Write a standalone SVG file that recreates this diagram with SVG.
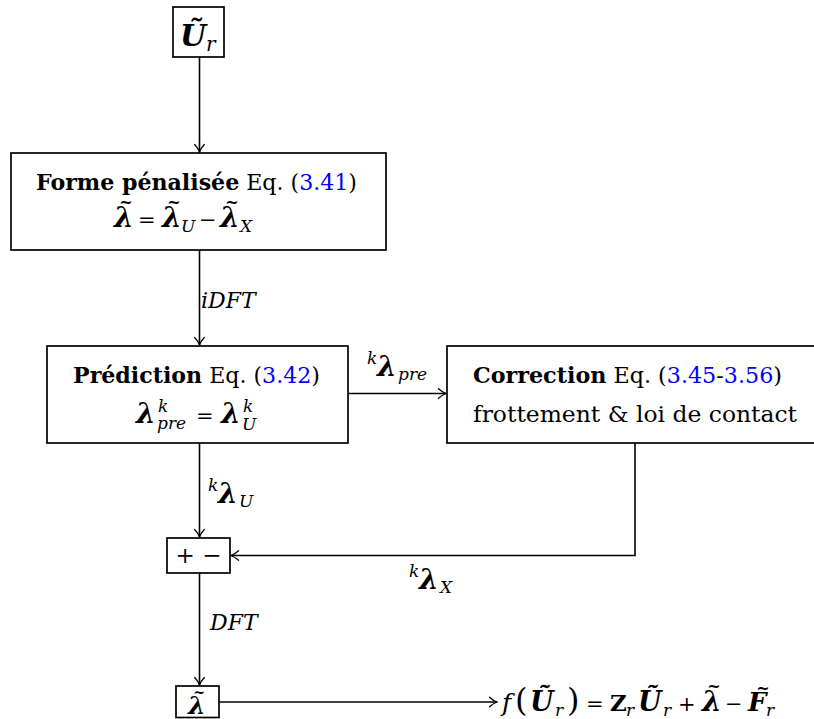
<svg xmlns="http://www.w3.org/2000/svg" width="814" height="719" viewBox="0 0 814 719">
<defs>
<marker id="arr" markerUnits="userSpaceOnUse" markerWidth="14" markerHeight="14" viewBox="-10 -7 12 14" refX="0" refY="0" orient="auto" overflow="visible">
<path d="M-7.5,-4.8 C-4.8,-2.3 -2,-0.7 0,0 C-2,0.7 -4.8,2.3 -7.5,4.8" fill="none" stroke="#000" stroke-width="1.3" stroke-linecap="round"/>
</marker>
<style>
.box{fill:#fff;stroke:#000;stroke-width:1.7}
.t{font-family:"DejaVu Serif",serif;font-size:23px;fill:#000}
.b{font-weight:bold}
.ref{fill:#0000ff}
.m{font-family:"DejaVu Serif",serif;fill:#000;font-size:22px}
.lam{font-weight:bold;font-style:italic;font-size:28px}
.it{font-style:italic}
.sub{font-style:italic;font-size:17px}
.til{font-family:"DejaVu Serif",serif;font-weight:bold;font-size:16px;text-anchor:middle;fill:#000}
.op{font-size:21px}
.edge{fill:none;stroke:#000;stroke-width:1.6}
</style>
</defs>
<rect width="814" height="719" fill="#fff"/>

<g id="connectors">
<line class="edge" x1="199.5" y1="57" x2="199.5" y2="152" marker-end="url(#arr)"/>
<line class="edge" x1="199.5" y1="250" x2="199.5" y2="345" marker-end="url(#arr)"/>
<line class="edge" x1="348" y1="393.5" x2="446" y2="393.5" marker-end="url(#arr)"/>
<line class="edge" x1="199.5" y1="443" x2="199.5" y2="537" marker-end="url(#arr)"/>
<path class="edge" d="M635,443 V555.5 H231" marker-end="url(#arr)"/>
<line class="edge" x1="199.5" y1="573" x2="199.5" y2="685" marker-end="url(#arr)"/>
<line class="edge" x1="219" y1="702" x2="497" y2="702" marker-end="url(#arr)"/>
<text class="m it" x="201" y="308">iDFT</text>
<g id="lab-pre">
<text class="m sub" x="367" y="364">k</text>
<text class="m lam" x="377" y="376">λ</text>
<text class="m sub" x="398" y="380">pre</text>
</g>
<g id="lab-u">
<text class="m sub" x="208" y="491">k</text>
<text class="m lam" x="218" y="503">λ</text>
<text class="m sub" x="239" y="507">U</text>
</g>
<g id="lab-x">
<text class="m sub" x="409" y="577">k</text>
<text class="m lam" x="419" y="589">λ</text>
<text class="m sub" x="440" y="593">X</text>
</g>
<text class="m it" x="210" y="630">DFT</text>
</g>

<g id="node-ur">
<rect class="box" x="173" y="7" width="51" height="50"/>
<text class="m lam" x="180" y="46" style="font-size:30px">Ũ</text>
<text class="m sub" x="206" y="51" style="font-size:20px">r</text>
</g>

<g id="node-forme">
<rect class="box" x="11" y="153" width="375" height="97"/>
<text class="t" x="36" y="190" textLength="321" lengthAdjust="spacingAndGlyphs"><tspan class="b">Forme pénalisée</tspan> Eq. (<tspan class="ref">3.41</tspan>)</text>
<text class="m lam" x="114" y="227">λ</text>
<text class="til" x="126" y="208">~</text>
<text class="m op" x="138" y="227">=</text>
<text class="m lam" x="162" y="227">λ</text>
<text class="til" x="174" y="208">~</text>
<text class="m sub" x="181" y="232">U</text>
<text class="m op" x="199" y="227">−</text>
<text class="m lam" x="220" y="227">λ</text>
<text class="til" x="232" y="208">~</text>
<text class="m sub" x="240" y="232">X</text>
</g>

<g id="node-prediction">
<rect class="box" x="47" y="346" width="301" height="97"/>
<text class="t" x="73" y="383" textLength="247" lengthAdjust="spacingAndGlyphs"><tspan class="b">Prédiction</tspan> Eq. (<tspan class="ref">3.42</tspan>)</text>
<text class="m lam" x="136" y="423">λ</text>
<text class="m sub" x="158" y="412">k</text>
<text class="m sub" x="157" y="429">pre</text>
<text class="m op" x="196" y="423">=</text>
<text class="m lam" x="221" y="423">λ</text>
<text class="m sub" x="243" y="412">k</text>
<text class="m sub" x="242" y="430">U</text>
</g>

<g id="node-correction">
<rect class="box" x="447" y="346" width="372" height="97"/>
<text class="t" x="473" y="383" textLength="309" lengthAdjust="spacingAndGlyphs"><tspan class="b">Correction</tspan> Eq. (<tspan class="ref">3.45</tspan>-<tspan class="ref">3.56</tspan>)</text>
<text class="t" x="473" y="422" textLength="324" lengthAdjust="spacingAndGlyphs">frottement &amp; loi de contact</text>
</g>

<g id="node-sum">
<rect class="box" x="167" y="538" width="63" height="35"/>
<text class="t" x="198.5" y="563" text-anchor="middle">+ −</text>
</g>

<g id="node-lambda">
<rect class="box" x="176" y="686" width="43" height="31.5"/>
<text class="m lam" x="188" y="714" style="font-size:25px">λ</text>
<text class="til" x="199" y="697" style="font-size:14px">~</text>
</g>

<g id="output">
<text class="m it" x="502" y="711" style="font-size:25px">f</text>
<text class="m" x="515" y="711" style="font-size:32px">(</text>
<text class="m lam" x="530" y="711" style="font-size:27px">Ũ</text>
<text class="m sub" x="555" y="716">r</text>
<text class="m" x="567" y="711" style="font-size:32px">)</text>
<text class="m op" x="586" y="711">=</text>
<text class="m b" x="610" y="711" style="font-size:23px">Z</text>
<text class="m sub" x="626" y="716">r</text>
<text class="m lam" x="638" y="711" style="font-size:27px">Ũ</text>
<text class="m sub" x="663" y="716">r</text>
<text class="m op" x="678" y="711">+</text>
<text class="m lam" x="702" y="711">λ</text>
<text class="til" x="714" y="692">~</text>
<text class="m op" x="725" y="711">−</text>
<text class="m lam" x="748" y="711" style="font-size:26px">F</text>
<text class="til" x="763" y="694">~</text>
<text class="m sub" x="766" y="716">r</text>
</g>
</svg>
